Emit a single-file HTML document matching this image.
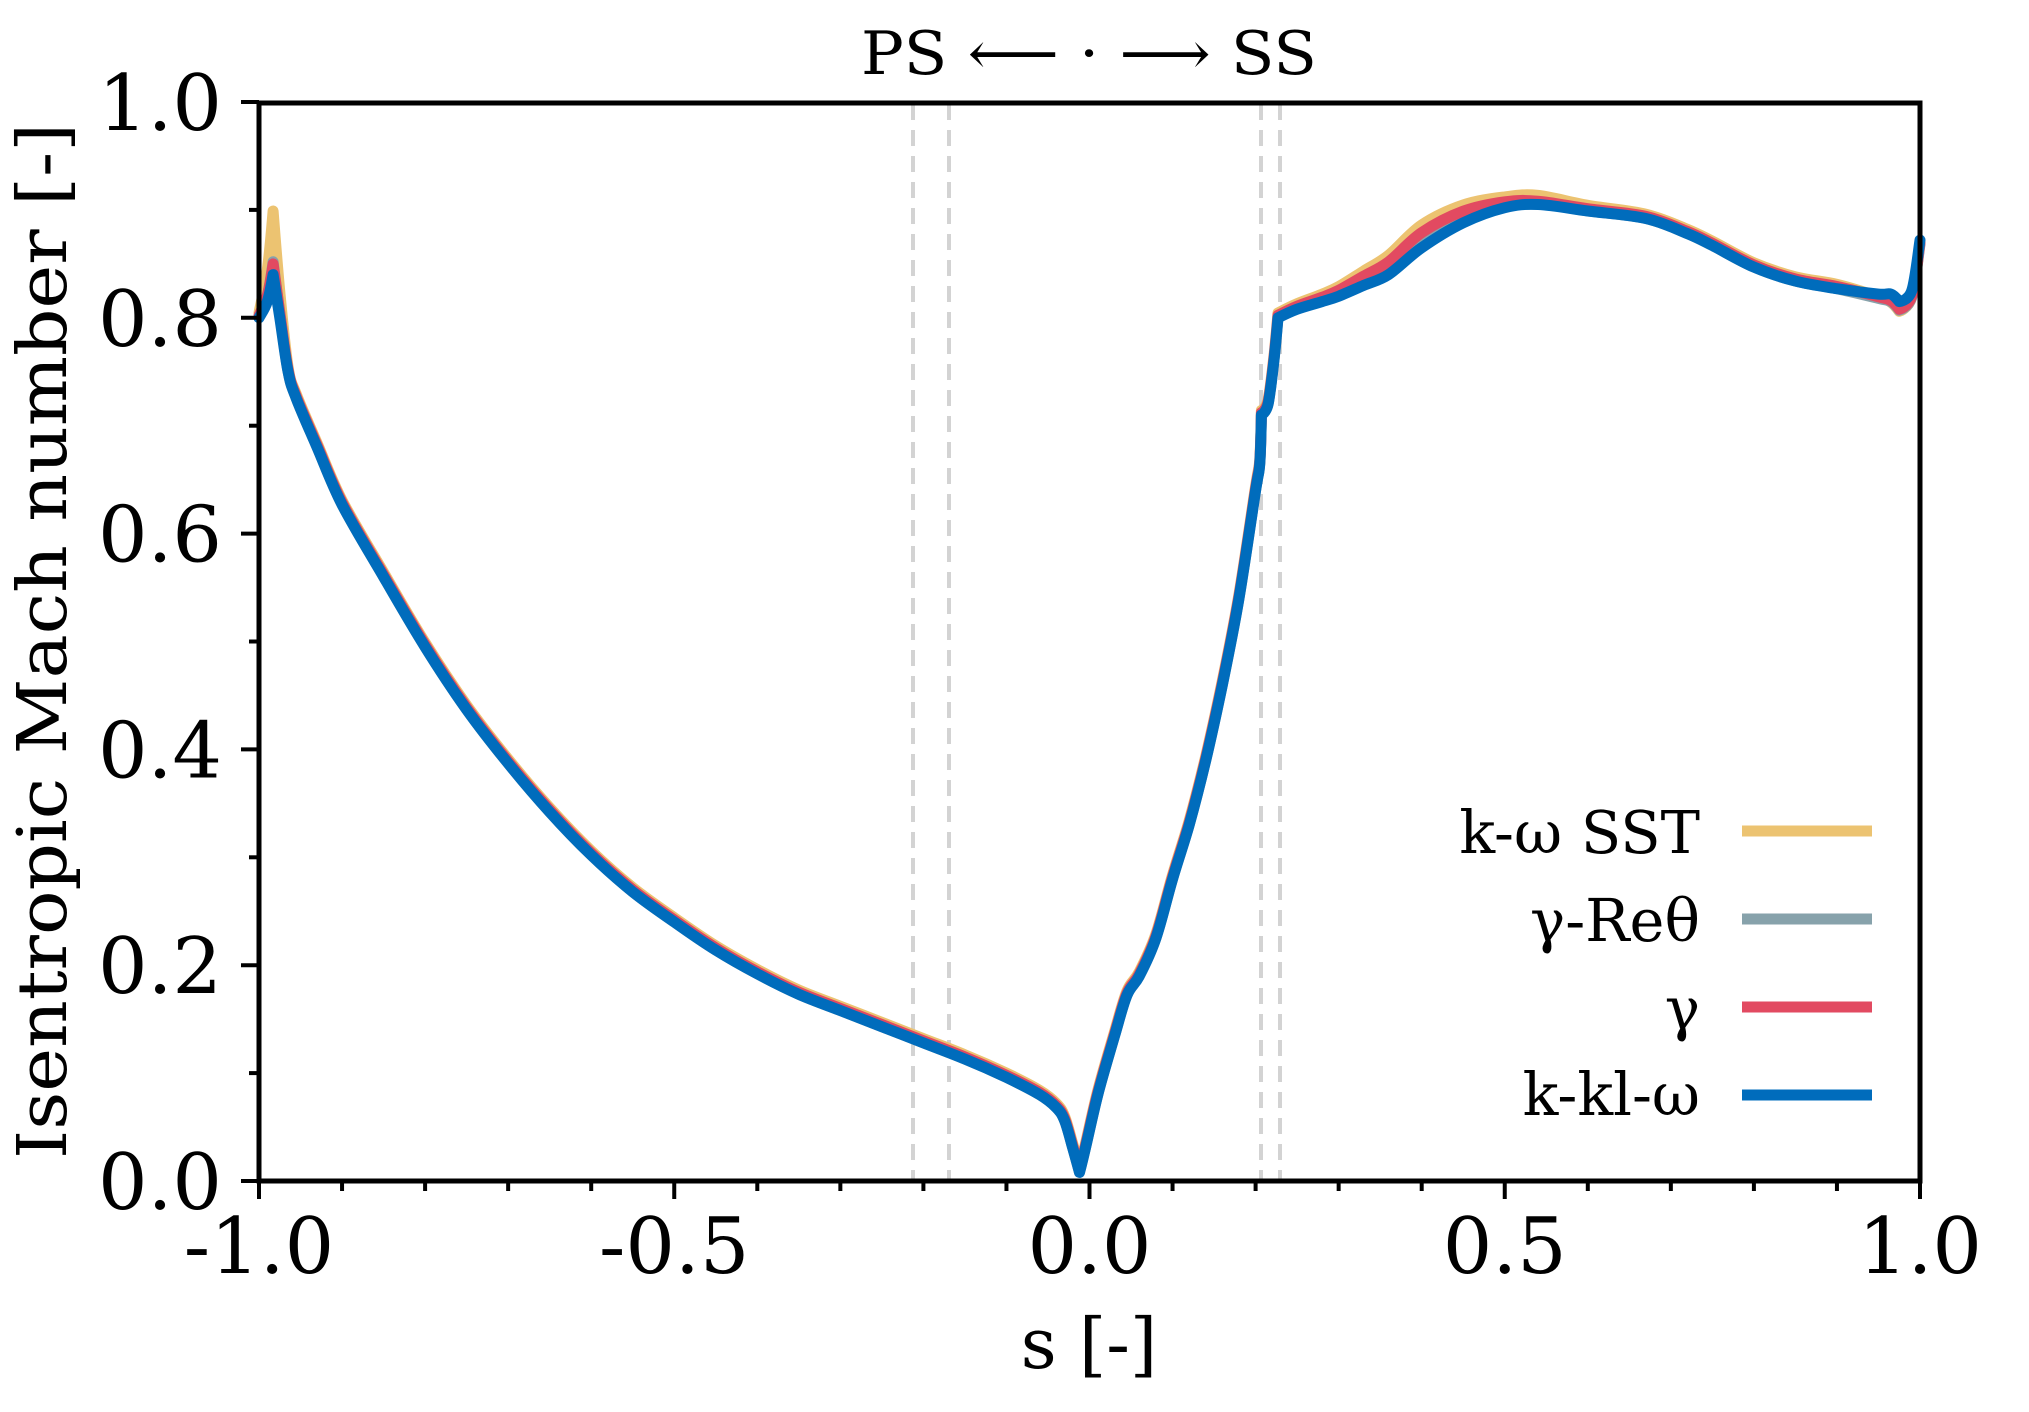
<!DOCTYPE html>
<html><head><meta charset="utf-8"><style>
html,body{margin:0;padding:0;background:#fff;}
svg{display:block;}
text{font-family:"DejaVu Serif","Liberation Serif",serif;fill:#000;}
</style></head><body>
<svg id="s" width="2029" height="1412" viewBox="0 0 2029 1412" xmlns="http://www.w3.org/2000/svg">
<g id="grid" stroke="#d3d3d3" stroke-width="4" stroke-dasharray="16,10">
<line x1="913" y1="104" x2="913" y2="1179"/>
<line x1="949" y1="104" x2="949" y2="1179"/>
<line x1="1261" y1="104" x2="1261" y2="1179"/>
<line x1="1280" y1="104" x2="1280" y2="1179"/>
</g>
<g id="series" fill="none" stroke-linejoin="round" stroke-linecap="round" stroke-width="11"></g>
<rect x="259" y="103" width="1661" height="1078" fill="none" stroke="#000" stroke-width="5"/>
<g id="ticks" stroke="#000" stroke-width="4"></g>
<g id="labels" font-size="78"></g>
<text x="1089" y="74" font-size="60" text-anchor="middle" textLength="456" lengthAdjust="spacingAndGlyphs">PS ⟵ · ⟶ SS</text>
<text x="1089" y="1368" font-size="70" text-anchor="middle">s [-]</text>
<text transform="translate(66,641) rotate(-90)" font-size="68" text-anchor="middle" textLength="1036" lengthAdjust="spacingAndGlyphs">Isentropic Mach number [-]</text>
<g font-size="59" text-anchor="end">
<text x="1700" y="853">k-ω SST</text>
<text x="1700" y="941">γ-Reθ</text>
<text x="1700" y="1029">γ</text>
<text x="1700" y="1115">k-kl-ω</text>
</g>
<g stroke-width="11">
<line x1="1742" y1="831" x2="1872" y2="831" stroke="#ECC371"/>
<line x1="1742" y1="919" x2="1872" y2="919" stroke="#87A2AB"/>
<line x1="1742" y1="1007" x2="1872" y2="1007" stroke="#E24A61"/>
<line x1="1742" y1="1095" x2="1872" y2="1095" stroke="#006CBC"/>
</g>
</svg>
<script>
var X=function(s){return 259+(s+1)*830.5;},Y=function(m){return 1181-m*1079;};
var NS="http://www.w3.org/2000/svg";
function el(p,t,a,txt){var e=document.createElementNS(NS,t);for(var k in a)e.setAttribute(k,a[k]);if(txt!==undefined)e.textContent=txt;p.appendChild(e);return e;}
var tk=document.getElementById('ticks'),lb=document.getElementById('labels');
for(var i=0;i<=20;i++){var s=-1+i*0.1,x=X(s),maj=(i%5==0);el(tk,'line',{x1:x,y1:1181,x2:x,y2:1181+(maj?18:10)});}
for(var i=0;i<=10;i++){var m=i*0.1,y=Y(m),maj=(i%2==0);el(tk,'line',{x1:259,y1:y,x2:259-(maj?18:10),y2:y});}
var xl=["-1.0","-0.5","0.0","0.5","1.0"];
for(var i=0;i<5;i++)el(lb,'text',{x:X(-1+i*0.5),y:1273,'text-anchor':'middle'},xl[i]);
var yl=["0.0","0.2","0.4","0.6","0.8","1.0"];
for(var i=0;i<6;i++)el(lb,'text',{x:222,y:Y(i*0.2)+28,'text-anchor':'end'},yl[i]);
var B=[[-1,0.80],[-0.99,0.815],[-0.983,0.84],[-0.975,0.80],[-0.965,0.75],[-0.955,0.725],[-0.93,0.68],[-0.9,0.627],[-0.85,0.56],[-0.8,0.495],[-0.75,0.437],[-0.7,0.387],[-0.65,0.342],[-0.6,0.302],[-0.55,0.268],[-0.5,0.24],[-0.45,0.214],[-0.4,0.192],[-0.35,0.173],[-0.3,0.158],[-0.25,0.143],[-0.2,0.128],[-0.15,0.113],[-0.1,0.096],[-0.06,0.08],[-0.04,0.068],[-0.03,0.056],[-0.02,0.03],[-0.012,0.008],[-0.005,0.03],[0.01,0.08],[0.03,0.134],[0.045,0.172],[0.06,0.19],[0.08,0.225],[0.1,0.28],[0.12,0.33],[0.14,0.39],[0.16,0.46],[0.18,0.54],[0.2,0.64],[0.205,0.665],[0.207,0.71],[0.215,0.72],[0.222,0.76],[0.227,0.80],[0.25,0.808],[0.28,0.815],[0.3,0.82],[0.33,0.83],[0.36,0.84],[0.4,0.865],[0.45,0.888],[0.5,0.902],[0.54,0.905],[0.6,0.899],[0.67,0.892],[0.72,0.878],[0.75,0.867],[0.8,0.847],[0.85,0.834],[0.9,0.827],[0.95,0.822],[0.965,0.822],[0.975,0.815],[0.99,0.825],[1.0,0.872]];
var SHARP={"-0.983":1,"-0.012":1,"0.207":1,"0.227":1,"0.975":1};
function bump(s,c,w){var d=(s-c)/w;return Math.exp(-d*d);}
function path(off){
 var P=B.map(function(p){return [X(p[0]),Y(p[1]+off(p[0])),p[0]];});
 var d='M'+P[0][0].toFixed(1)+' '+P[0][1].toFixed(1);
 for(var i=0;i<P.length-1;i++){
  var p0=P[Math.max(0,i-1)],p1=P[i],p2=P[i+1],p3=P[Math.min(P.length-1,i+2)];
  var t1=SHARP[String(p1[2])]?0:1/6,t2=SHARP[String(p2[2])]?0:1/6;
  var c1x=p1[0]+(p2[0]-p0[0])*t1,c1y=p1[1]+(p2[1]-p0[1])*t1;
  var c2x=p2[0]-(p3[0]-p1[0])*t2,c2y=p2[1]-(p3[1]-p1[1])*t2;
  d+='C'+c1x.toFixed(1)+' '+c1y.toFixed(1)+' '+c2x.toFixed(1)+' '+c2y.toFixed(1)+' '+p2[0].toFixed(1)+' '+p2[1].toFixed(1);
 }
 return d;}
var g=document.getElementById('series');
el(g,'path',{d:path(function(s){return 0.055*bump(s,-0.983,0.008)+0.017*bump(s,0.4,0.09)+0.003*bump(s,0.55,0.05)-0.013*bump(s,0.975,0.03)+0.004;}),stroke:'#ECC371'});
el(g,'path',{d:path(function(s){return 0.012*bump(s,-0.983,0.008)+0.012*bump(s,0.4,0.09)-0.008*bump(s,0.975,0.03);}),stroke:'#87A2AB'});
el(g,'path',{d:path(function(s){return 0.008*bump(s,-0.983,0.008)+0.012*bump(s,0.4,0.09)-0.009*bump(s,0.975,0.03)+0.002;}),stroke:'#E24A61'});
el(g,'path',{d:path(function(s){return 0;}),stroke:'#006CBC'});
</script>
</body></html>
